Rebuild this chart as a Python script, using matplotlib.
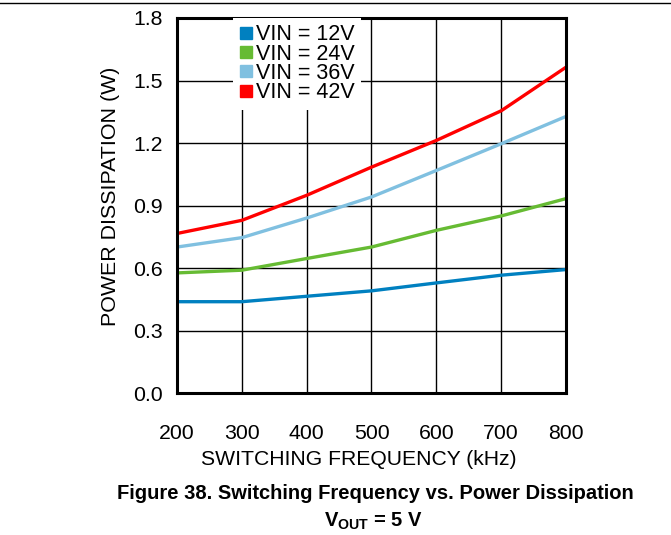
import matplotlib
matplotlib.use("Agg")
import matplotlib.pyplot as plt
from matplotlib.lines import Line2D

plt.rcParams['font.family'] = ['Liberation Sans', 'DejaVu Sans']
plt.rcParams['mathtext.fontset'] = 'custom'
plt.rcParams['mathtext.rm'] = 'Liberation Sans'
plt.rcParams['mathtext.bf'] = 'Liberation Sans:bold'

freq = [200, 300, 400, 500, 600, 700, 800]
vin12 = [0.44, 0.44, 0.466, 0.492, 0.53, 0.567, 0.594]
vin24 = [0.578, 0.591, 0.647, 0.702, 0.782, 0.851, 0.934]
vin36 = [0.702, 0.747, 0.841, 0.942, 1.069, 1.197, 1.328]
vin42 = [0.767, 0.830, 0.950, 1.085, 1.213, 1.355, 1.564]
labels = ['VIN = 12V', 'VIN = 24V', 'VIN = 36V', 'VIN = 42V']
colors = ['#0080c0', '#66bb33', '#80c0e0', '#ff0000']

fig = plt.figure(figsize=(6.71, 5.35), dpi=100)
ax = fig.add_axes([0.2638, 0.2645, 0.5797, 0.7019])

for y, c in zip([vin12, vin24, vin36, vin42], colors):
    ax.plot(freq, y, color=c, lw=2.4, solid_capstyle='butt')

ax.set_xlim(200, 800)
ax.set_ylim(0, 1.8)
ax.set_xticks(freq)
ax.set_yticks([0.0, 0.3, 0.6, 0.9, 1.2, 1.5, 1.8])
ax.set_yticklabels(['0.0', '0.3', '0.6', '0.9', '1.2', '1.5', '1.8'])
ax.grid(True, color='black', lw=1.0)
ax.set_axisbelow(True)
ax.tick_params(axis='x', length=0, pad=22, labelsize=15.3)
ax.tick_params(axis='y', length=0, pad=10, labelsize=15.3)
for s in ax.spines.values():
    s.set_linewidth(2.2)

ax.set_xlabel('SWITCHING FREQUENCY (kHz)', fontsize=15.2, va='center')
ax.xaxis.set_label_coords(0.468, -0.177)
ax.set_ylabel('POWER DISSIPATION (W)', fontsize=15.4, va='center')
ax.yaxis.set_label_coords(-0.170, 0.525)

handles = [Line2D([], [], marker='s', ls='none', color=c, markersize=8.5) for c in colors]
leg = ax.legend(handles, labels, loc='upper left', bbox_to_anchor=(0.144, 1.0),
                frameon=True, fontsize=15.5, handlelength=0.6, handletextpad=0.15,
                labelspacing=-0.08, borderpad=0.3, borderaxespad=0.0, fancybox=False)
leg.get_frame().set_edgecolor('none')
leg.get_frame().set_facecolor('white')
leg.get_frame().set_alpha(1.0)

fig.add_artist(Line2D([0, 1], [0.994, 0.994], color='black', lw=1.0))
fig.text(0.56, 0.078, 'Figure 38. Switching Frequency vs. Power Dissipation',
         ha='center', va='center', fontsize=14.5, fontweight='bold')
fig.text(0.556, 0.026, r'$\mathbf{V_{OUT}}$ = 5 V', ha='center', va='center',
         fontsize=14.5, fontweight='bold')

fig.savefig('out.png', dpi=100)
